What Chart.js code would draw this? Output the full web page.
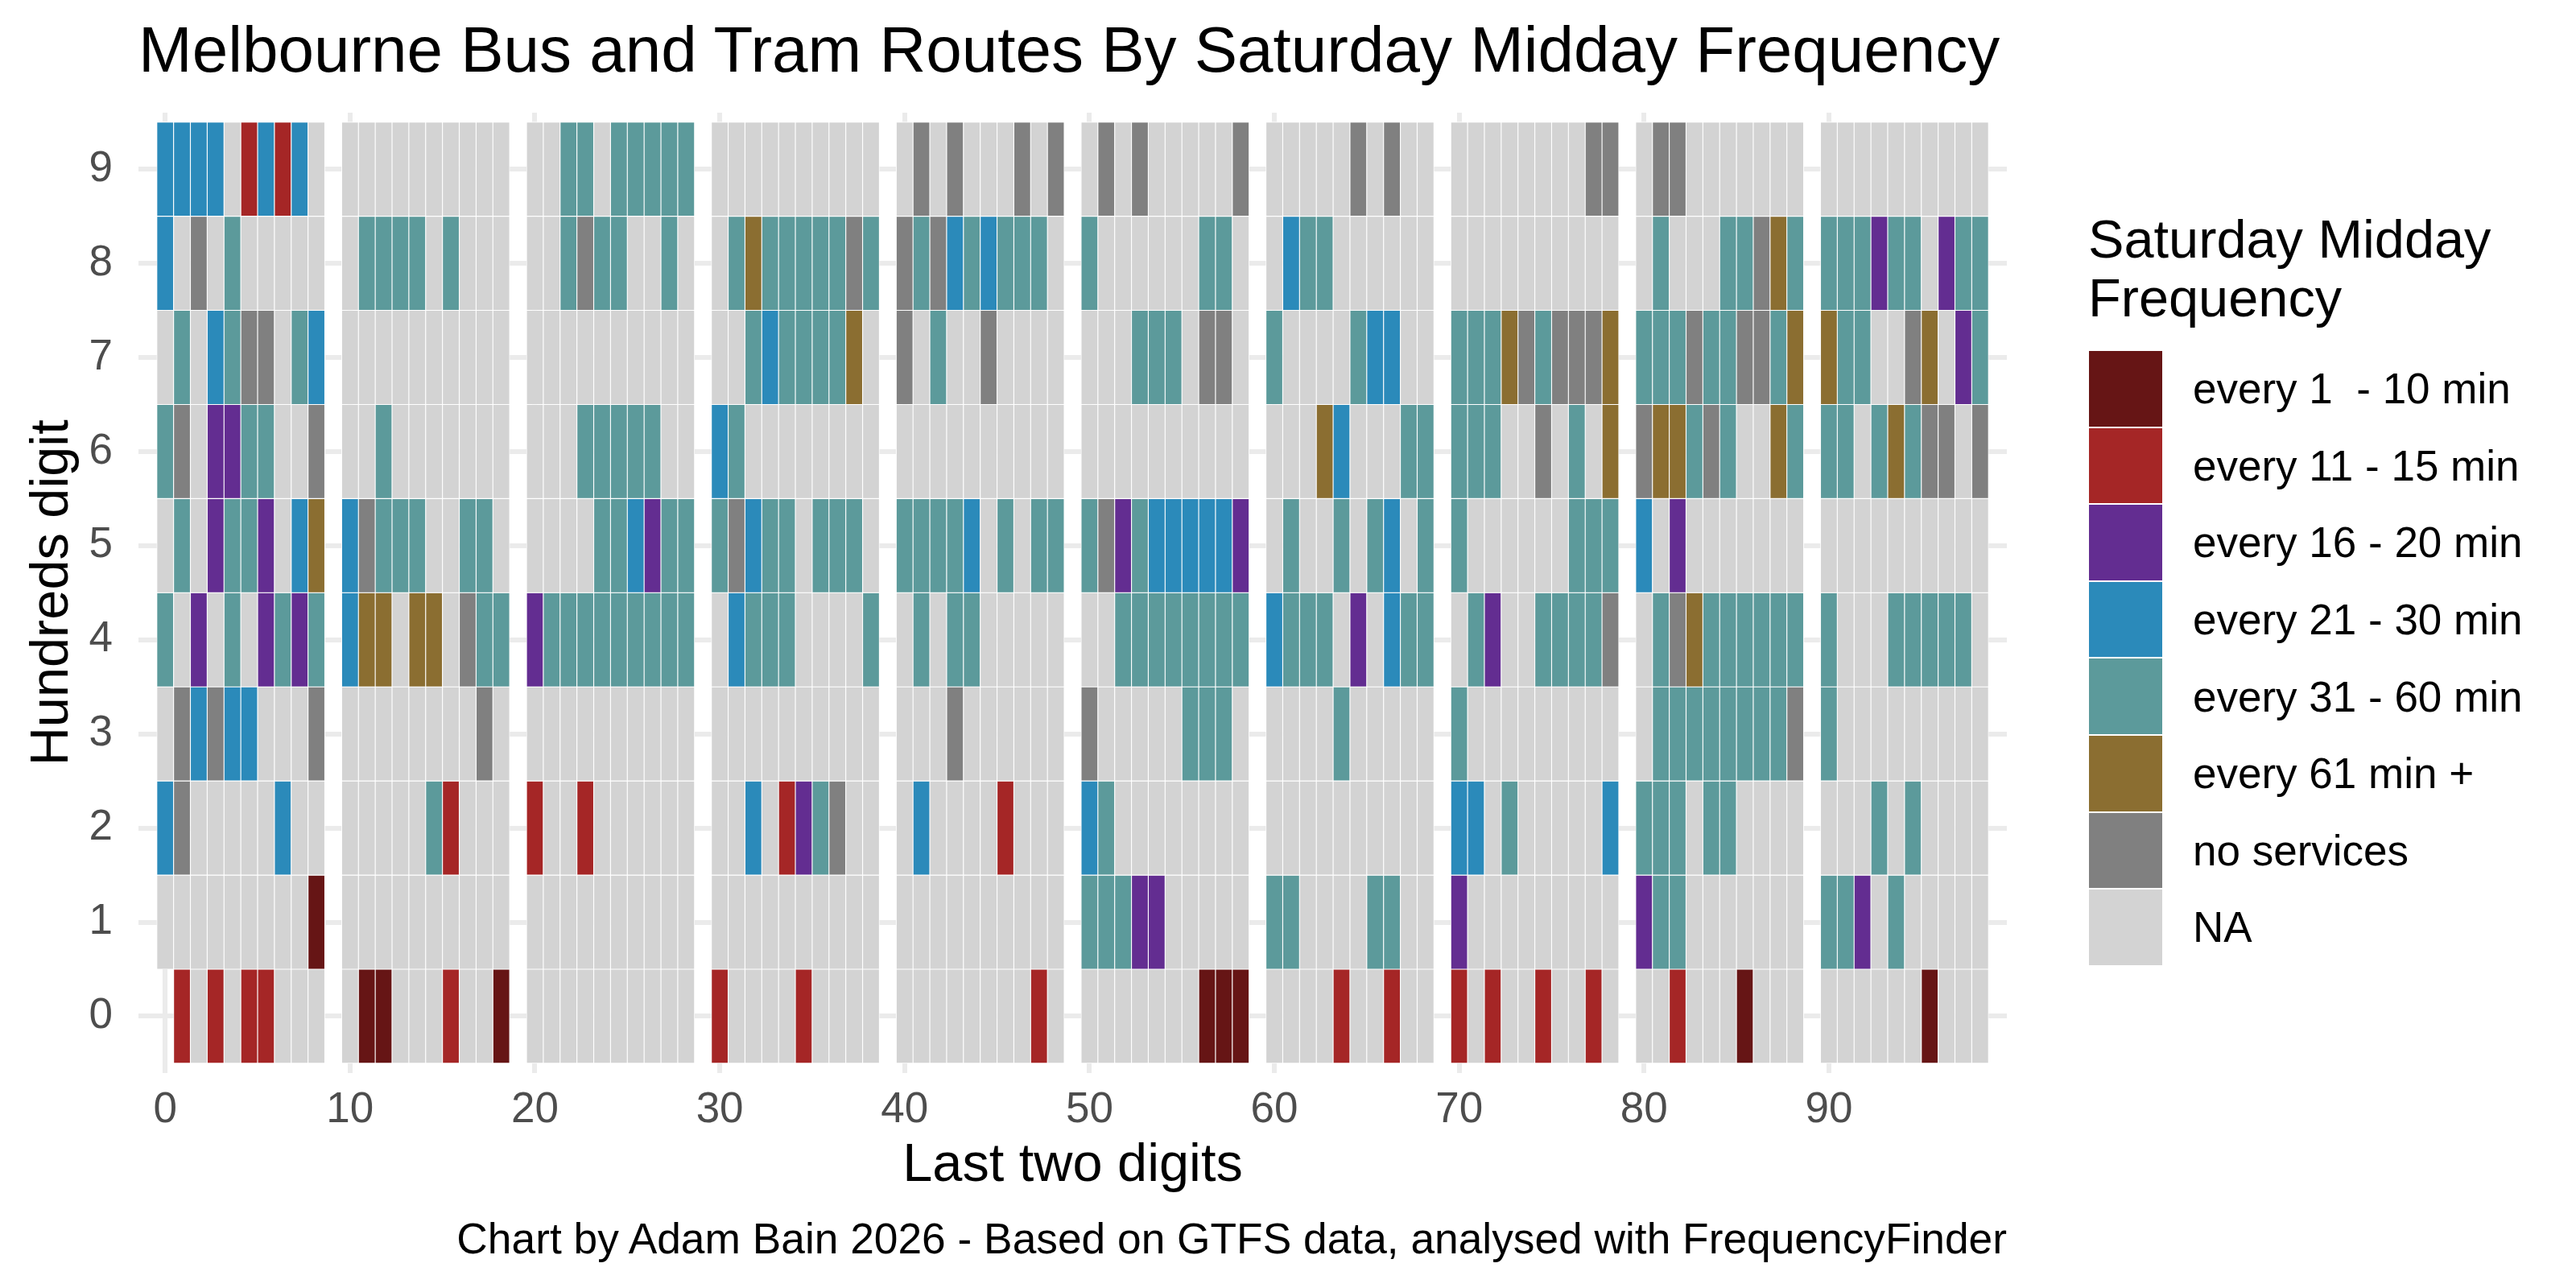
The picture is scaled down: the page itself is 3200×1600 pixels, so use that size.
<!DOCTYPE html>
<html>
<head>
<meta charset="utf-8">
<title>Melbourne Bus and Tram Routes By Saturday Midday Frequency</title>
<script src="https://cdn.jsdelivr.net/npm/chart.js@4.4.1/dist/chart.umd.min.js"></script>
<style>
  body { margin: 0; background: #fff; }
  #wrap { position: relative; width: 3200px; height: 1600px; background: #fff; font-family: "Liberation Sans", Arial, sans-serif; }
  #chart { position: absolute; left: 0; top: 0; }
  #title { position: absolute; left: 172px; top: 22px; font-size: 80px; line-height: 80px; color: #000; white-space: nowrap; }
  #caption { position: absolute; right: 707px; top: 1512px; font-size: 53.3px; line-height: 53px; color: #000; white-space: nowrap; }
  #legendTitle { position: absolute; left: 2594px; top: 261px; font-size: 66.7px; line-height: 73px; color: #000; }
  .key { position: absolute; left: 2594px; width: 93px; box-sizing: border-box; border: 1.2px solid #fff; }
  .keyLabel { position: absolute; left: 2724px; font-size: 53px; color: #000; white-space: pre; display: flex; align-items: center; }
</style>
</head>
<body>
<div id="wrap">
  <canvas id="chart" width="3200" height="1600"></canvas>
  <div id="title">Melbourne Bus and Tram Routes By Saturday Midday Frequency</div>
  <div id="legendTitle">Saturday Midday<br>Frequency</div>
  <div id="legend"></div>
  <div id="caption">Chart by Adam Bain 2026 - Based on GTFS data, analysed with FrequencyFinder</div>
</div>
<script>
// frequency classes (legend order) and their codes used in the rows below
const freqCodes = ["D", "R", "P", "B", "T", "O", "G", "N"];
const freqLabels = [
  "every 1  - 10 min",
  "every 11 - 15 min",
  "every 16 - 20 min",
  "every 21 - 30 min",
  "every 31 - 60 min",
  "every 61 min +",
  "no services",
  "NA"
];
const freqColors = ["#661515", "#A52626", "#632D91", "#2B8ABA", "#5C9A9B", "#8B6E31", "#808080", "#D3D3D3"];

// one string per hundreds digit, last two digits 00..99 in groups of ten (X = no route)
const hundred9 = "BBBBNRBRBN NNNNNNNNNN NNTTNTTTTT NNNNNNNNNN NGNGNNNGNG NGNGNNNNNG NNNNNGNGNN NNNNNNNNGG NGGNNNNNNN NNNNNNNNNN";
const hundred8 = "BNGNTNNNNN NTTTTNTNNN NNTGTTNNTN NTOTTTTTGT GTGBTBTTTN TNNNNNNTTN NBTTNNNNNN NNNNNNNNNN NTNNNTTGOT TTTPTTNPTT";
const hundred7 = "NTNBTGGNTB NNNNNNNNNN NNNNNNNNNN NNTBTTTTON GNTNNGNNNN NNNTTTNGGN TNNNNTBBNN TTTOGTGGGO TTTGTTGGTO OTTNNGONPT";
const hundred6 = "TGNPPTTNNG NNTNNNNNNN NNNTTTTTNN BTNNNNNNNN NNNNNNNNNN NNNNNNNNNN NNNOBNNNTT TTTNNGNTNO GOOTGTNNOT TTNTOTGGNG";
const hundred5 = "NTNPTTPNBO BGTTTNNTTN NNNNTTBPTT TGBTTNTTTN TTTTBNTNTT TGPTBBBBBP NTNNTNTBNT TNNNNNNTTT BNPNNNNNNN NNNNNNNNNN";
const hundred4 = "TNPNTNPTPT BOONOONGTT PTTTTTTTTT NBTTTNNNNT NTNTTNNNNN NNTTTTTTTT BTTTNPNBTT NTPNNTTTTG NTGOTTTTTT TNNNTTTTTN";
const hundred3 = "NGBGBBNNNG NNNNNNNNGN NNNNNNNNNN NNNNNNNNNN NNNGNNNNNN GNNNNNTTTN NNNNTNNNNN TNNNNNNNNN NTTTTTTTTG TNNNNNNNNN";
const hundred2 = "BGNNNNNBNN NNNNNTRNNN RNNRNNNNNN NNBNRPTGNN NBNNNNRNNN BTNNNNNNNN NNNNNNNNNN BBNTNNNNNB TTTNTTNNNN NNNTNTNNNN";
const hundred1 = "NNNNNNNNND NNNNNNNNNN NNNNNNNNNN NNNNNNNNNN NNNNNNNNNN TTTPPNNNNN TTNNNNTTNN PNNNNNNNNN PTTNNNNNNN TTPNTNNNNN";
const hundred0 = "XRNRNRRNNN NDDNNNRNND NNNNNNNNNN RNNNNRNNNN NNNNNNNNRN NNNNNNNDDD NNNNRNNRNN RNRNNRNNRN NNRNNNDNNN NNNNNNDNNN";

const hundreds = [hundred0, hundred1, hundred2, hundred3, hundred4, hundred5, hundred6, hundred7, hundred8, hundred9];
const yTickLabels = [0, 1, 2, 3, 4, 5, 6, 7, 8, 9];
const xTickLabels = [0, 10, 20, 30, 40, 50, 60, 70, 80, 90];

// each group of ten gets one empty column after it
const xPos = n => n + Math.floor(n / 10);

const cells = [];
const cellColors = [];
hundreds.forEach((row, h) => {
  const codes = row.replace(/ /g, "");
  for (let n = 0; n < 100; n++) {
    const c = codes[n];
    if (c === "X") continue;
    cells.push({ x: xPos(n), y: [h - 0.5, h + 0.5] });
    cellColors.push(freqColors[freqCodes.indexOf(c)]);
  }
});

// legend
const legend = document.getElementById("legend");
freqLabels.forEach((label, i) => {
  const top = 435 + i * 95.6;
  const key = document.createElement("div");
  key.className = "key";
  key.style.top = top + "px";
  key.style.height = "95.6px";
  key.style.background = freqColors[i];
  legend.appendChild(key);
  const txt = document.createElement("div");
  txt.className = "keyLabel";
  txt.style.top = top + "px";
  txt.style.height = "95.6px";
  txt.textContent = label;
  legend.appendChild(txt);
});

Chart.defaults.font.family = "'Liberation Sans', Arial, sans-serif";

const chart = new Chart(document.getElementById("chart"), {
  type: "bar",
  data: {
    datasets: [{
      data: cells,
      backgroundColor: cellColors,
      borderColor: "#ffffff",
      borderWidth: 0.9,
      borderSkipped: false,
      barPercentage: 1,
      categoryPercentage: 1
    }]
  },
  options: {
    responsive: false,
    animation: false,
    layout: { padding: { top: 140, right: 707, bottom: 0, left: 0 } },
    plugins: {
      legend: { display: false },
      tooltip: { enabled: false }
    },
    scales: {
      x: {
        type: "linear",
        min: -1.59,
        max: 109.59,
        offset: false,
        grid: { color: "#EBEBEB", lineWidth: 6, drawTicks: false, offset: false },
        border: { display: false },
        afterBuildTicks: scale => {
          scale.ticks = xTickLabels.map(v => ({ value: xPos(v) }));
        },
        afterFit: scale => { scale.height = 267.4; },
        ticks: {
          color: "#4D4D4D",
          font: { size: 53 },
          padding: 15,
          maxRotation: 0,
          autoSkip: false,
          callback: (value, index) => xTickLabels[index]
        },
        title: {
          display: true,
          text: "Last two digits",
          color: "#000",
          font: { size: 66.7 },
          padding: { top: 0, bottom: 111 }
        }
      },
      y: {
        type: "linear",
        min: -0.6,
        max: 9.6,
        grid: { color: "#EBEBEB", lineWidth: 6, drawTicks: false },
        border: { display: false },
        afterBuildTicks: scale => {
          scale.ticks = yTickLabels.map(v => ({ value: v }));
        },
        afterFit: scale => { scale.width = 172; },
        ticks: {
          color: "#4D4D4D",
          font: { size: 53 },
          padding: 32,
          autoSkip: false,
          callback: (value, index) => yTickLabels[index]
        },
        title: {
          display: true,
          text: "Hundreds digit",
          color: "#000",
          font: { size: 66.7 },
          padding: { top: 26, bottom: 0 }
        }
      }
    }
  }
});
</script>
</body>
</html>
